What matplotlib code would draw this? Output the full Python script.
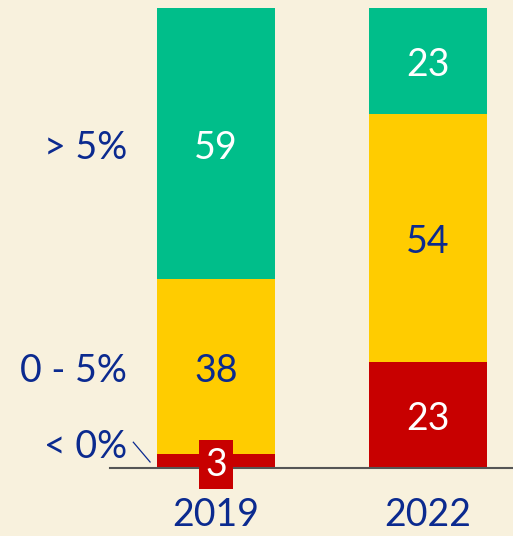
import matplotlib as mpl
import numpy as np

mpl.use("Agg")
import matplotlib.pyplot as plt

# Data
years = ["2019", "2022"]
categories = ["< 0%", "0 - 5%", "> 5%"]
below_zero = [3, 23]
zero_to_five = [38, 54]
above_five = [59, 23]

BG = "#F8F1DD"
NAVY = "#0B2A8F"
colors = ["#C80000", "#FFCC00", "#00BE8A"]
text_colors = ["white", NAVY, "white"]
FS = 27
DY = 0.9  # nudge text down a little so digits sit visually centred

plt.rcParams["font.family"] = ["Lato", "DejaVu Sans"]

fig = plt.figure(figsize=(5.13, 5.36), dpi=100, facecolor=BG)
ax = fig.add_axes([110 / 513, (536 - 467.5) / 536, 403 / 513, 459.5 / 536])
ax.set_facecolor(BG)

x = np.arange(len(years))
width = 0.557
series = [below_zero, zero_to_five, above_five]
bottom = np.zeros(len(years))
for vals, col, tcol in zip(series, colors, text_colors):
    vals = np.asarray(vals, dtype=float)
    ax.bar(x, vals, width=width, bottom=bottom, color=col, linewidth=0, zorder=2)
    for xi, v, b in zip(x, vals, bottom):
        if v >= 10:
            ax.text(xi, b + v / 2 - DY, f"{int(v)}", ha="center", va="center",
                    color=tcol, fontsize=FS, zorder=4)
        else:
            # small segment: label in a box straddling the baseline
            ax.text(xi, b + v / 2 - DY, f"{int(v)}", ha="center", va="center",
                    color="white", fontsize=FS, zorder=4,
                    bbox=dict(boxstyle="square,pad=0.17", fc=col, ec="none"))
    bottom += vals

ax.set_xlim(-0.5, 1.401)
ax.set_ylim(0, 100)
ax.axhline(0, color="#555555", lw=1.5, zorder=3, clip_on=False)

for s in ax.spines.values():
    s.set_visible(False)
ax.set_yticks([])
ax.set_xticks(x)
ax.set_xticklabels(years, fontsize=FS, color=NAVY)
ax.tick_params(axis="x", length=0, pad=21)

# category labels on the left, aligned with the 2019 bar segments
first = [s[0] for s in series]
mids = np.cumsum(first) - np.asarray(first) / 2
label_y = [mids[0] + 3.8, mids[1], mids[2]]
for cat, yv in zip(categories, label_y):
    ax.text(-0.42, yv - DY, cat, ha="right", va="center", color=NAVY,
            fontsize=FS, clip_on=False)
ax.plot([-0.39, -0.311], [5.5, 1.2], color=NAVY, lw=0.9, clip_on=False)

plt.savefig("out.png", dpi=100, facecolor=BG)
